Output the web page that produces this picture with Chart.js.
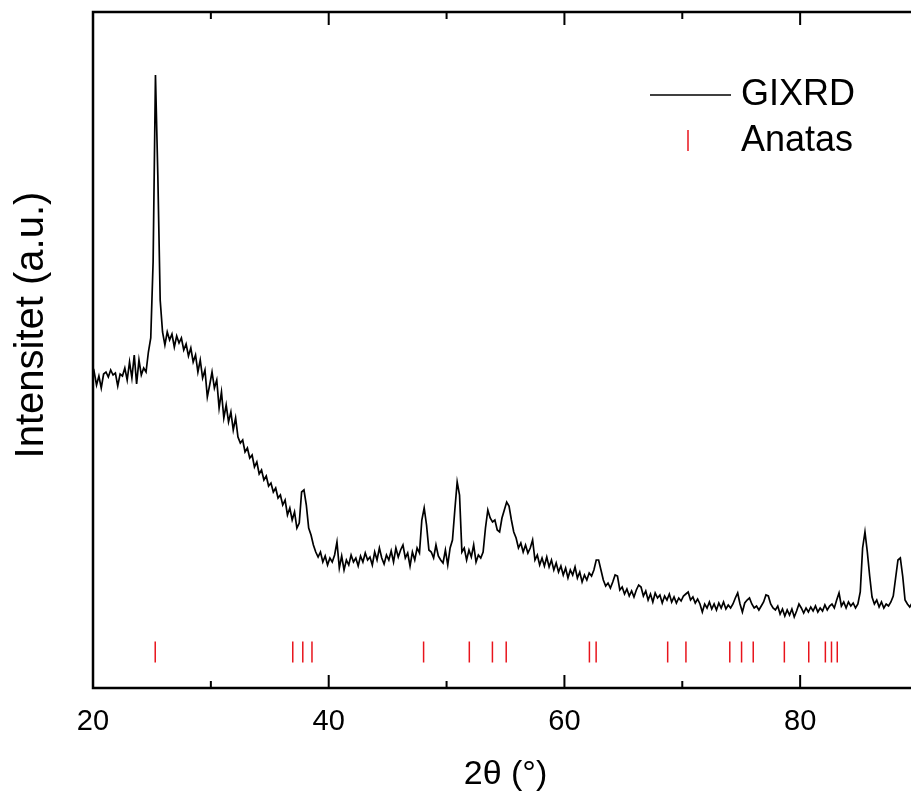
<!DOCTYPE html>
<html>
<head>
<meta charset="utf-8">
<script src="https://cdn.jsdelivr.net/npm/chart.js@4.4.1/dist/chart.umd.min.js"></script>
<style>
  html, body { margin: 0; padding: 0; background: #fff; overflow: hidden; }
  #wrap { width: 911px; height: 794px; overflow: hidden; }
</style>
</head>
<body>
<div id="wrap"><canvas id="xrd" width="960" height="794"></canvas></div>
<script>
// GIXRD scan, 2theta from 19.9 deg in 0.2 deg steps, intensity in arbitrary units
const scanStart = 19.9;
const scanStep = 0.2;
const intensity = [
  308,
  316, 303, 312, 300, 314,
  316, 311, 318, 313, 315,
  302, 314, 312, 320, 308,
  326, 310, 333, 304, 328,
  313, 320, 316, 336, 350,
  426, 613, 513, 388, 356,  // 25
  343, 356, 348, 354, 341,
  352, 345, 350, 338, 344,
  332, 340, 326, 333, 316,
  328, 310, 318, 291, 303,
  316, 300, 308, 280, 296,  // 30
  270, 283, 266, 276, 258,
  270, 251, 245, 248, 236,
  240, 230, 233, 221, 226,
  214, 218, 208, 212, 202,
  205, 196, 200, 190, 193,  // 35
  183, 188, 173, 180, 168,
  176, 160, 165, 196, 198,
  183, 160, 153, 143, 136,
  131, 136, 126, 132, 123,
  130, 126, 133, 146, 120,  // 40
  132, 118, 128, 123, 133,
  126, 130, 122, 132, 126,
  135, 128, 131, 123, 136,
  128, 140, 130, 124, 133,
  128, 137, 126, 140, 131,  // 45
  138, 143, 130, 135, 122,
  136, 128, 140, 135, 168,
  180, 163, 138, 136, 130,
  143, 132, 128, 125, 138,
  123, 140, 148, 178, 206,  // 50
  193, 136, 140, 128, 138,
  131, 143, 126, 133, 130,
  136, 160, 178, 170, 166,
  168, 158, 156, 170, 178,
  186, 182, 168, 156, 150,  // 55
  140, 145, 136, 143, 135,
  140, 148, 128, 133, 123,
  130, 122, 131, 121, 128,
  118, 125, 116, 122, 113,
  120, 110, 118, 113, 121,  // 60
  110, 116, 106, 113, 108,
  115, 112, 118, 128, 128,
  118, 108, 102, 105, 100,
  106, 113, 112, 98, 101,
  94, 99, 92, 97, 91,       // 65
  98, 103, 101, 92, 97,
  88, 94, 86, 95, 90,
  93, 85, 92, 88, 94,
  86, 91, 85, 90, 87,
  92, 94, 96, 88, 91,       // 70
  85, 89, 84, 76, 84,
  80, 86, 79, 84, 78,
  85, 80, 86, 79, 83,
  80, 84, 90, 95, 84,
  76, 85, 88, 90, 84,       // 75
  80, 82, 78, 82, 86,
  93, 92, 84, 80, 78,
  82, 74, 79, 72, 78,
  73, 79, 71, 77, 84,
  80, 75, 80, 76, 81,       // 80
  77, 82, 76, 80, 77,
  83, 78, 82, 84, 80,
  88, 95, 82, 86, 80,
  86, 82, 85, 80, 84,
  96, 140, 156, 136, 112,   // 85
  91, 84, 88, 81, 86,
  80, 84, 82, 86, 92,
  110, 128, 130, 112, 88,
  84, 81, 85, 82, 86,
  83
];
const twoTheta = intensity.map((_, i) => +(scanStart + scanStep * i).toFixed(1));

// anatase reference reflections (2theta, deg)
const anatasPeaks = [25.28, 36.95, 37.80, 38.58, 48.05, 51.93, 53.89, 55.06, 62.12, 62.69,
                     68.76, 70.31, 74.03, 75.03, 76.02, 78.66, 80.73, 82.14, 82.66, 83.15];
const anatasLevel = 36;

const xTicks = [20, 40, 60, 80];
const xMinorTicks = [30, 50, 70, 90];
const yTitle = 'Intensitet (a.u.)';

const FONT = '"Liberation Sans", Arial, sans-serif';

// frame with inward ticks, bottom and top
const frameTicks = {
  id: 'frameTicks',
  afterDatasetsDraw(chart) {
    const { ctx, chartArea: a, scales: { x } } = chart;
    ctx.save();
    ctx.strokeStyle = '#000';
    ctx.lineWidth = 2.5;
    ctx.strokeRect(a.left, a.top, a.right - a.left, a.bottom - a.top);
    ctx.lineWidth = 2;
    const tick = (v, len) => {
      const px = x.getPixelForValue(v);
      ctx.beginPath();
      ctx.moveTo(px, a.bottom); ctx.lineTo(px, a.bottom - len);
      ctx.moveTo(px, a.top); ctx.lineTo(px, a.top + len);
      ctx.stroke();
    };
    xTicks.forEach(v => tick(v, 13));
    xMinorTicks.forEach(v => tick(v, 7));
    ctx.restore();
  }
};

// legend inside the plot, top right, plus the rotated y title
const insetLegend = {
  id: 'insetLegend',
  afterDraw(chart) {
    const { ctx } = chart;
    const [scan, ref] = chart.data.datasets;
    ctx.save();
    ctx.font = '36px ' + FONT;
    ctx.textBaseline = 'middle';
    ctx.fillStyle = '#000';
    ctx.strokeStyle = scan.borderColor;
    ctx.lineWidth = 1.5;
    ctx.beginPath(); ctx.moveTo(650, 95); ctx.lineTo(731, 95); ctx.stroke();
    ctx.fillText(scan.label, 741, 95);
    ctx.strokeStyle = ref.borderColor;
    ctx.beginPath(); ctx.moveTo(688, 130); ctx.lineTo(688, 151); ctx.stroke();
    ctx.fillText(ref.label, 741, 141);

    ctx.translate(32, 325);
    ctx.rotate(-Math.PI / 2);
    ctx.textAlign = 'center';
    ctx.font = '40px ' + FONT;
    ctx.fillText(yTitle, 0, 0);
    ctx.restore();
  }
};

new Chart(document.getElementById('xrd'), {
  type: 'line',
  data: {
    datasets: [{
      label: 'GIXRD',
      data: twoTheta.map((t, i) => ({ x: t, y: intensity[i] })),
      borderColor: '#000',
      borderWidth: 1.7,
      pointRadius: 0,
      tension: 0
    }, {
      label: 'Anatas',
      type: 'scatter',
      data: anatasPeaks.map(t => ({ x: t, y: anatasLevel })),
      borderColor: '#e8141c',
      backgroundColor: '#e8141c',
      borderWidth: 1.5,
      pointStyle: 'line',
      rotation: 90,
      pointRadius: 10.5
    }]
  },
  options: {
    responsive: false,
    animation: false,
    layout: { padding: { top: 12, right: 42 } },
    plugins: { legend: { display: false }, tooltip: { enabled: false } },
    scales: {
      x: {
        type: 'linear',
        min: 20, max: 90,
        afterFit: s => { s.height = 106; },
        afterBuildTicks: s => { s.ticks = xTicks.map(v => ({ value: v })); },
        grid: { display: false },
        border: { display: false },
        ticks: { color: '#000', padding: 9, font: { family: FONT, size: 29 } },
        title: { display: true, text: '2θ (°)', color: '#000', padding: { top: 0, bottom: -1 },
                 font: { family: FONT, size: 34 } }
      },
      y: {
        min: 0, max: 676,
        afterFit: s => { s.width = 93; },
        grid: { display: false },
        border: { display: false },
        ticks: { display: false },
        title: { display: false }
      }
    }
  },
  plugins: [frameTicks, insetLegend]
});
</script>
</body>
</html>
